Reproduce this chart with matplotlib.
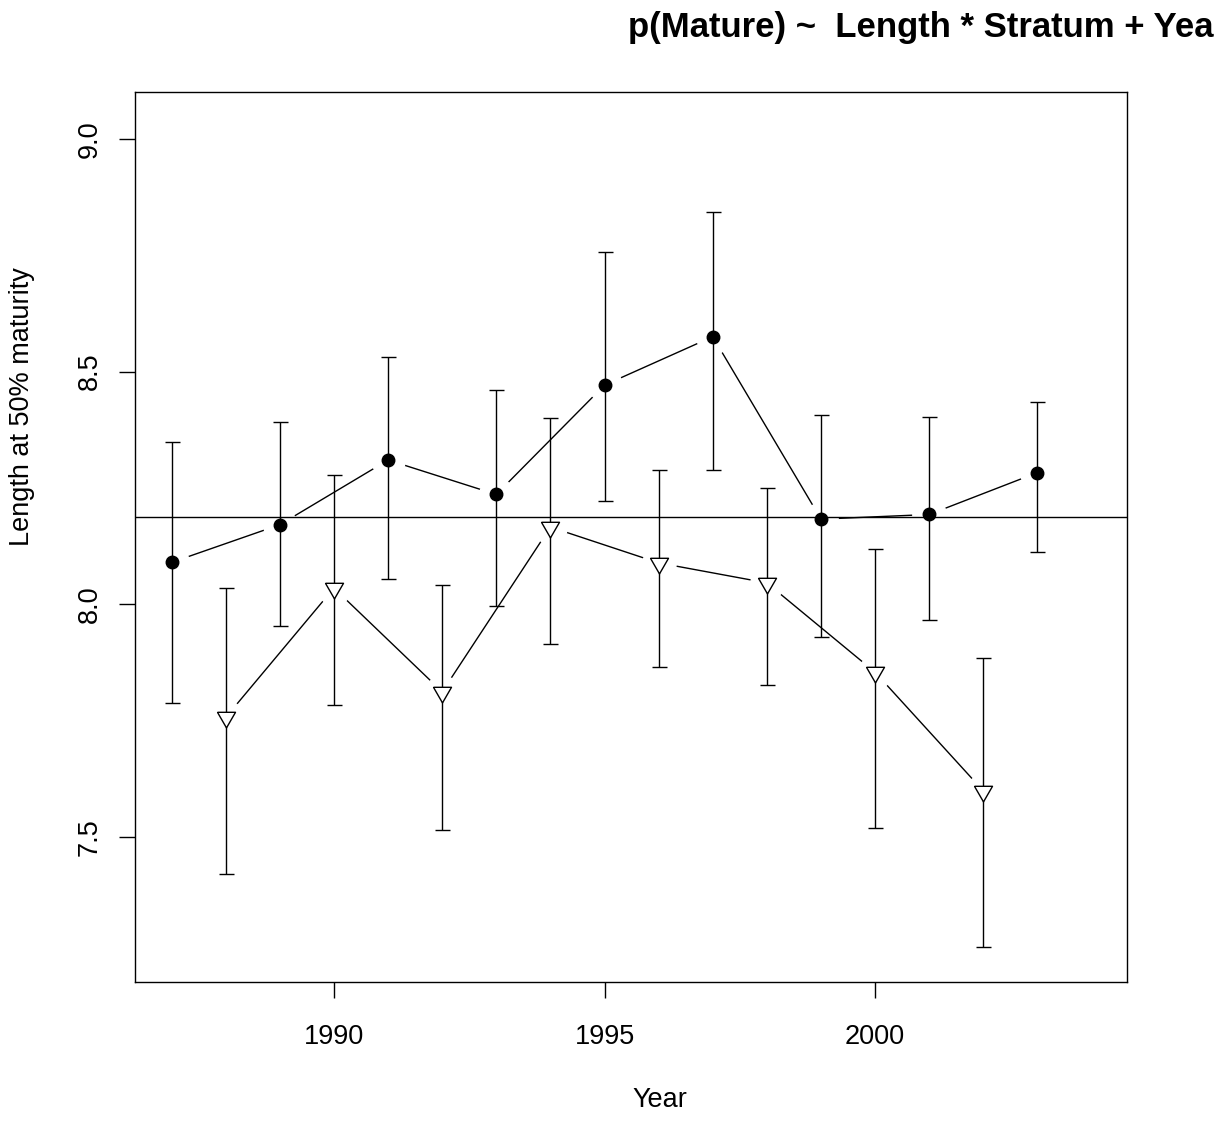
import numpy as np
import matplotlib.pyplot as plt

plt.rcParams['font.family'] = ['Liberation Sans', 'DejaVu Sans']

# stratum A (filled circles), odd years
years_a = [1987, 1989, 1991, 1993, 1995, 1997, 1999, 2001, 2003]
l50_a = [8.090, 8.171, 8.310, 8.236, 8.471, 8.575, 8.183, 8.193, 8.283]
upper_a = [8.349, 8.392, 8.531, 8.461, 8.758, 8.842, 8.407, 8.403, 8.435]
lower_a = [7.789, 7.953, 8.054, 7.996, 8.223, 8.289, 7.930, 7.966, 8.112]

# stratum B (open triangles), even years
years_b = [1988, 1990, 1992, 1994, 1996, 1998, 2000, 2002]
l50_b = [7.757, 8.035, 7.812, 8.166, 8.089, 8.046, 7.854, 7.599]
upper_b = [8.034, 8.277, 8.042, 8.400, 8.289, 8.250, 8.119, 7.885]
lower_b = [7.420, 7.784, 7.516, 7.915, 7.865, 7.827, 7.520, 7.264]

overall = 8.188

xticks = [1990, 1995, 2000]
yticks = [7.5, 8.0, 8.5, 9.0]

fig = plt.figure(figsize=(12.15, 11.22), dpi=100)
ax = fig.add_axes([0.1114, 0.1250, 0.8164, 0.7927])

# down triangle with centroid at the point (like R pch=6)
tri = [(-0.577, 0.333), (0.577, 0.333), (0, -0.667), (-0.577, 0.333)]

for x, y in [(years_a, l50_a), (years_b, l50_b)]:
    ax.plot(x, y, color='black', lw=1.0, zorder=1)
    # white disks leave the gaps around points, as in type="b"
    ax.plot(x, y, 'o', ms=24, mfc='white', mec='white', zorder=1.5)

for x, y, lo, up in [(years_a, l50_a, lower_a, upper_a), (years_b, l50_b, lower_b, upper_b)]:
    y = np.array(y)
    err = [y - np.array(lo), np.array(up) - y]
    ax.errorbar(x, y, yerr=err, fmt='none', ecolor='black', elinewidth=1.0,
                capsize=5.4, capthick=1.0, zorder=3)

ax.axhline(overall, color='black', lw=1.0, zorder=3)

ax.plot(years_a, l50_a, 'o', ms=9, color='black', zorder=4)
ax.plot(years_b, l50_b, linestyle='none', marker=tri, ms=15, mfc='white',
        mec='black', mew=1.0, zorder=4)

ax.set_xlim(1986.33, 2004.66)
ax.set_ylim(7.189, 9.100)
ax.set_xticks(xticks)
ax.set_xticklabels([str(t) for t in xticks])
ax.set_yticks(yticks)
ax.set_yticklabels(['%.1f' % t for t in yticks], rotation=90, va='center')
ax.tick_params(direction='out', length=11.5, width=1.0, labelsize=19.5)
ax.tick_params(axis='x', pad=19)
ax.tick_params(axis='y', pad=12)
for s in ax.spines.values():
    s.set_linewidth(1.0)

fig.text(660 / 1215, 1 - 1100 / 1122, 'Year', fontsize=19.5, ha='center', va='center')
fig.text(22 / 1215, 1 - 407 / 1122, 'Length at 50% maturity', fontsize=19.5,
         rotation=90, ha='center', va='center')
fig.text(628 / 1215, 1 - 27 / 1122, 'p(Mature) ~  Length * Stratum + Year',
         fontsize=25, fontweight='bold', ha='left', va='center')

plt.savefig('out.png', dpi=100)
